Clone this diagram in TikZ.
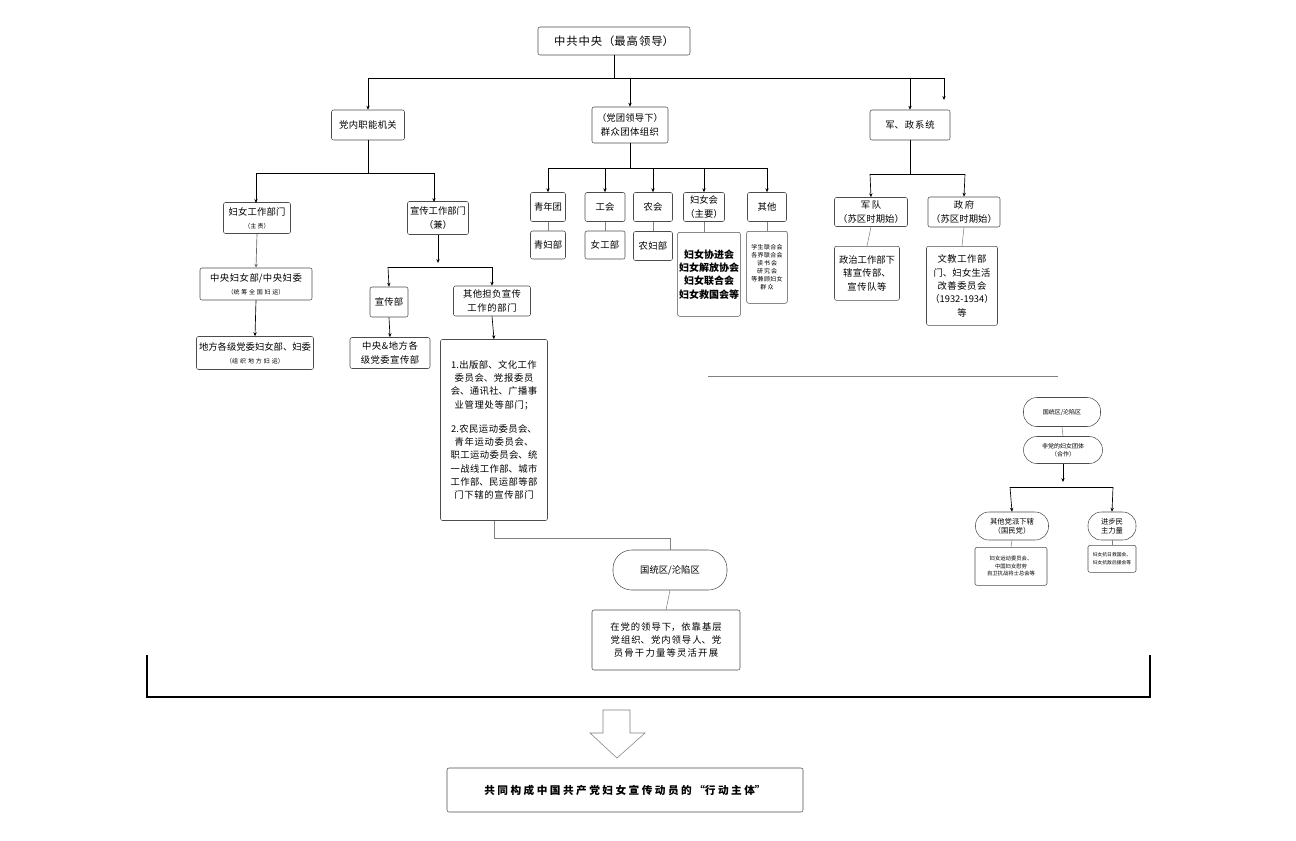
\documentclass[tikz,border=0pt]{standalone}
\usepackage{fontspec}
\setmainfont{Noto Sans CJK SC}
\XeTeXlinebreaklocale "zh"
\XeTeXlinebreakskip=0pt plus 1pt
\usetikzlibrary{arrows.meta}
\begin{document}
\begin{tikzpicture}[x=0.75pt,y=-0.75pt,
  bx/.style={draw=black!70,line width=0.4pt,rounded corners=1.5pt,align=center,inner sep=1pt,font=\fontsize{7}{10}\selectfont},
  st/.style={draw=black!70,line width=0.4pt,rounded corners=10pt,align=center,font=\fontsize{7}{10}\selectfont\itshape},
  ar/.style={-{Stealth[length=3pt,width=2.5pt]},line width=0.5pt},
  ln/.style={draw=black!50,line width=0.4pt},
  sm/.style={font=\fontsize{4.5}{6}\selectfont}]
\useasboundingbox (0,0) rectangle (1296,840);
\newcommand{\bxn}[7]{\node[bx,minimum width=#4*0.75pt,minimum height=#5*0.75pt,text width=#6*0.75pt] (#1) at (#2,#3) {#7};}
\bxn{top}{614}{41}{152}{28}{146}{\fontsize{8.5}{10}\selectfont 中共中央（最高领导）}
\bxn{dn}{368}{125}{73}{30}{67}{党内职能机关}
\bxn{qz}{630}{125}{76}{36}{70}{（党团领导下）\\群众团体组织}
\bxn{jz}{910}{125}{80}{30}{74}{军、政系统}
\coordinate (t1) at (614,78);
\draw[line width=0.6pt] (368,78) -- (944,78);
\draw (top.south) -- (t1);
\draw[ar] (368,78) -- (dn.north);
\draw[ar] (630,78) -- (qz.north);
\draw[ar] (910,78) -- (jz.north);
\draw[ar] (944,78) -- (944,100);
% party
\bxn{fn}{257}{218}{67}{31}{62}{妇女工作部门\\{\fontsize{4.5}{6}\selectfont（主责）}}
\bxn{xc}{438}{218}{61}{33}{56}{宣传工作部门\\（兼）}
\draw (dn.south) -- (368,173);
\draw[line width=0.6pt] (256,173) -- (434,173);
\draw[ar] (256,173) -- (256,203);
\draw[ar] (434,173) -- (434,202);
\bxn{zy}{256}{284}{112}{32}{106}{中央妇女部/中央妇委\\{\fontsize{4.5}{6}\selectfont（统筹全国妇运）}}
\bxn{df}{255}{353}{117}{33}{112}{地方各级党委妇女部、妇委\\{\fontsize{4.5}{6}\selectfont（组织地方妇运）}}
\draw[ar,draw=black!60] (fn.south) -- (zy.north);
\draw[ar] (zy.south) -- (df.north);
\draw[ar] (xc.south) -- (438,263);
\draw[line width=0.6pt] (388,267) -- (492,267);
\bxn{xcb}{389}{302}{38}{30}{34}{宣传部}
\bxn{qt}{492}{301}{77}{30}{68}{其他担负宣传工作的部门}
\draw[ar] (388,267) -- (xcb.north);
\draw[ar] (492,267) -- (qt.north);
\bxn{zd}{390}{353}{80}{31}{72}{中央\&地方各级党委宣传部}
\draw[ar] (xcb.south) -- (zd.north);
\node[bx,minimum width=107*0.75pt,minimum height=181*0.75pt,text width=98*0.75pt] (big) at (494,430) {1.出版部、文化工作委员会、党报委员会、通讯社、广播事业管理处等部门；\\[8pt]2.农民运动委员会、青年运动委员会、职工运动委员会、统一战线工作部、城市工作部、民运部等部门下辖的宣传部门};
\draw[ar] (qt.south) -- (big.north);
\node[st,minimum width=114*0.75pt,minimum height=40*0.75pt,rounded corners=14pt] (gt) at (670,570) {国统区/沦陷区};
\draw[ln] (big.south) -- (494,538) -- (670,538) -- (gt.north);
\bxn{zd2}{666}{640}{148}{60}{138}{在党的领导下，依靠基层党组织、党内领导人、党员骨干力量等灵活开展}
\draw[ln] (gt.south) -- (666,610);
% mass orgs
\draw[line width=0.6pt] (548,168) -- (767,168);
\draw (qz.south) -- (630,168);
\foreach \n/\x/\w/\t in {q1/548/35/青年团,q2/605/40/工会,q3/653/39/农会,q4/704/41/{妇女会\\（主要）},q5/767/39/其他}{
  \node[bx,minimum width=\w*0.75pt,minimum height=29*0.75pt] (\n) at (\x,207) {\t};
  \draw[ar] (\x,168) -- (\n.north);}
\bxn{r1}{548}{245}{35}{28}{32}{青妇部}
\bxn{r2}{605}{245}{40}{28}{36}{女工部}
\bxn{r3}{653}{246}{39}{29}{36}{农妇部}
\node[bx,minimum width=62*0.75pt,minimum height=84*0.75pt,anchor=north,font=\fontsize{7.5}{10}\selectfont\bfseries] (r4) at (709,232) {妇女协进会\\妇女解放协会\\妇女联合会\\妇女救国会等};
\node[bx,sm,minimum width=40*0.75pt,minimum height=72*0.75pt,text width=38*0.75pt,anchor=north] (r5) at (767,231) {学生联合会\\各界联合会\\读书会\\研究会\\等兼顾妇女\\群众};
\foreach \a/\b in {q1/r1,q2/r2,q3/r3}{\draw[ln] (\a.south) -- (\b.north);}
\draw[ln] (q4.south) -- (704,232);
\draw[ln] (q5.south) -- (r5.north);
% mil/gov
\draw (jz.south) -- (910,174);
\draw[line width=0.6pt] (870,174) -- (965,174);
\bxn{jd}{871}{212}{73}{29}{68}{军队\\（苏区时期始）}
\bxn{zf}{964}{212}{72}{30}{68}{政府\\（苏区时期始）}
\draw[ar] (870,174) -- (jd.north);
\draw[ar] (965,174) -- (zf.north);
\node[bx,minimum width=65*0.75pt,minimum height=54*0.75pt,text width=56*0.75pt,anchor=north] (jd2) at (867,246) {政治工作部下辖宣传部、宣传队等};
\node[bx,minimum width=71*0.75pt,minimum height=79*0.75pt,text width=64*0.75pt,anchor=north] (zf2) at (962,246) {文教工作部门、妇女生活改善委员会\\（1932-1934）\\等};
\draw[ln] (jd.south) -- (jd2.north);
\draw[ln] (zf.south) -- (zf2.north);
\draw[draw=black!50,line width=0.4pt] (708,376) -- (1058,376);
% right
\node[st,font=\fontsize{4.5}{6}\selectfont\itshape,minimum width=77*0.75pt,minimum height=29*0.75pt] (g2) at (1062,412) {国统区/沦陷区};
\node[st,font=\fontsize{4.5}{6}\selectfont\itshape,minimum width=79*0.75pt,minimum height=27*0.75pt] (fd) at (1063,450) {非党的妇女团体\\（合作）};
\draw[ln] (g2.south) -- (fd.north);
\draw[ar] (fd.south) -- (1063,482);
\draw[line width=0.6pt] (1010,487) -- (1113,487);
\node[st,font=\fontsize{5.5}{7}\selectfont,minimum width=73*0.75pt,minimum height=28*0.75pt] (qd) at (1012,526) {其他党派下辖\\（国民党）};
\node[st,font=\fontsize{5.5}{7}\selectfont,minimum width=48*0.75pt,minimum height=28*0.75pt] (jb) at (1112,526) {进步民\\主力量};
\draw[ar] (1010,487) -- (qd.north);
\draw[ar] (1113,487) -- (jb.north);
\node[bx,font=\fontsize{4}{5.5}\selectfont,minimum width=72*0.75pt,minimum height=38*0.75pt,anchor=north] (qd2) at (1011,547) {妇女运动委员会、\\中国妇女慰劳\\自卫抗战将士总会等};
\node[bx,font=\fontsize{3.6}{5.5}\selectfont,minimum width=48*0.75pt,minimum height=27*0.75pt,anchor=north] (jb2) at (1112,545) {妇女抗日救国会、\\妇女抗敌后援会等};
\draw[ln] (qd.south) -- (qd2.north);
\draw[ln] (jb.south) -- (jb2.north);
% bracket
\draw[line width=0.8pt] (147,655) -- (147,697) -- (1150,697) -- (1150,655);
\draw[draw=black!50,line width=0.4pt,fill=white] (603,710) -- (630,710) -- (630,733) -- (645,733) -- (617,758) -- (590,733) -- (603,733) -- cycle;
\bxn{fin}{625}{790}{356}{44}{350}{\fontsize{8}{10}\selectfont\bfseries 共同构成中国共产党妇女宣传动员的“行动主体”}
\end{tikzpicture}
\end{document}
